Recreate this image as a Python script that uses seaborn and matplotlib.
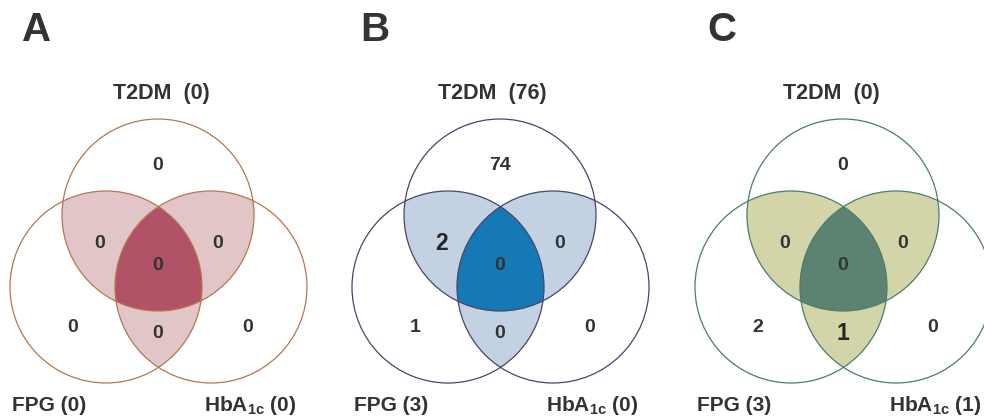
"""
Three-set Venn diagrams: T2DM / FPG / HbA1c overlap per group
"""

import numpy as np
import seaborn as sns
import matplotlib
matplotlib.use("Agg")
import matplotlib.pyplot as plt
from matplotlib.patches import Circle

# ---- data ----
panel_letters = ["A", "B", "C"]
t2dm_totals = [0, 76, 0]
fpg_totals = [0, 3, 3]
hba1c_totals = [0, 0, 1]
# region order: T2DM only, T2DM&FPG, T2DM&HbA1c, all three, FPG only, FPG&HbA1c, HbA1c only
counts_a = [0, 0, 0, 0, 0, 0, 0]
counts_b = [74, 2, 0, 0, 1, 0, 0]
counts_c = [0, 0, 0, 0, 2, 1, 0]
region_counts = [counts_a, counts_b, counts_c]

edge_colors = ["#b5764f", "#4a4468", "#4b7d6b"]
pair_colors = ["#e2c6c7", "#c3d2e2", "#d3d5a9"]
core_colors = ["#b15266", "#1479b4", "#5e8272"]

sns.set_theme(style="white")
plt.rcParams["font.family"] = ["Liberation Sans", "DejaVu Sans"]
plt.rcParams["mathtext.fontset"] = "custom"
plt.rcParams["mathtext.rm"] = "Liberation Sans:bold"
TXT = "#333333"


def region(centers, r, members):
    """polygon of the intersection of the given circles (convex)"""
    th = np.linspace(0, 2 * np.pi, 3000)
    pts = []
    for i in members:
        c = centers[i]
        p = np.column_stack([c[0] + r * np.cos(th), c[1] + r * np.sin(th)])
        ok = np.ones(len(p), bool)
        for j in members:
            if j != i:
                ok &= np.hypot(p[:, 0] - centers[j][0], p[:, 1] - centers[j][1]) <= r + 1e-6
        pts.append(p[ok])
    pts = np.vstack(pts)
    m = pts.mean(axis=0)
    order = np.argsort(np.arctan2(pts[:, 1] - m[1], pts[:, 0] - m[0]))
    return pts[order]


fig = plt.figure(figsize=(9.84, 4.18), dpi=100)
ax = fig.add_axes([0, 0, 1, 1])
ax.set_xlim(0, 984)
ax.set_ylim(418, 0)
ax.axis("off")

panel_cx = [158, 500, 843]
title_x = [161, 492, 831]
letter_x = [22, 360, 707]
r = 96

for k, cx in enumerate(panel_cx):
    centers = [(cx, 215), (cx - 52, 287), (cx + 53, 287)]

    for pair in [(0, 1), (0, 2), (1, 2)]:
        poly = region(centers, r, pair)
        ax.fill(poly[:, 0], poly[:, 1], color=pair_colors[k], lw=0, zorder=1)
    poly = region(centers, r, (0, 1, 2))
    ax.fill(poly[:, 0], poly[:, 1], color=core_colors[k], lw=0, zorder=2)

    for c in centers:
        ax.add_patch(Circle(c, r, fill=False, ec=edge_colors[k], lw=0.9, zorder=3))

    # region counts
    spots = [(cx, 166), (cx - 58, 243), (cx + 60, 243), (cx, 266),
             (cx - 85, 328), (cx, 333), (cx + 90, 328)]
    for idx, ((x, y), v) in enumerate(zip(spots, region_counts[k])):
        big = v != 0 and idx in (1, 2, 5)
        ax.text(x, y, str(v), ha="center", va="center", fontsize=16.5 if big else 14,
                fontweight="bold", color="#262626" if big else TXT, zorder=4)

    ax.text(letter_x[k], 30, panel_letters[k], ha="left", va="center",
            fontsize=29, fontweight="bold", color=TXT)
    ax.text(title_x[k], 93, f"T2DM  ({t2dm_totals[k]})", ha="center", va="center",
            fontsize=15.5, fontweight="bold", color=TXT)
    ax.text(cx - 146, 411, f"FPG ({fpg_totals[k]})", ha="left", va="baseline",
            fontsize=15, fontweight="bold", color=TXT)
    ax.text(cx + 138, 411, r"HbA$_{\mathrm{1c}}$" + f" ({hba1c_totals[k]})", ha="right",
            va="baseline", fontsize=15, fontweight="bold", color=TXT)

fig.savefig("out.png", dpi=100)
